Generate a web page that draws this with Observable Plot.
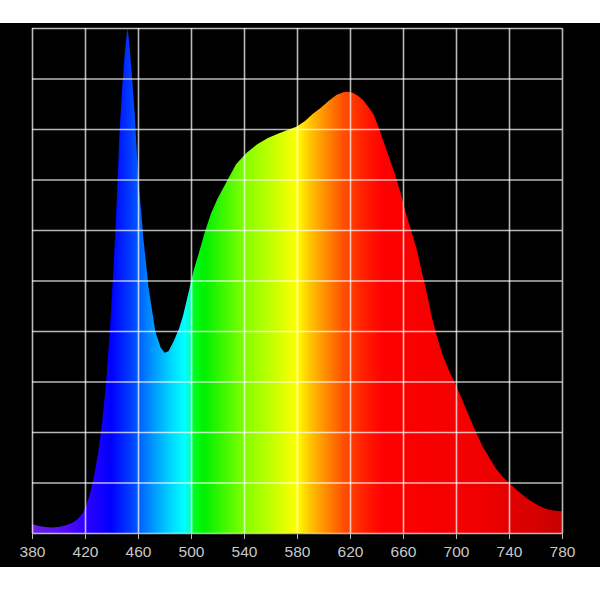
<!DOCTYPE html>
<html>
<head>
<meta charset="utf-8">
<script src="https://cdn.jsdelivr.net/npm/d3@7"></script>
<script src="https://cdn.jsdelivr.net/npm/@observablehq/plot@0.6"></script>
<style>
  html, body { margin: 0; padding: 0; background: #fff; }
  #wrap { padding-top: 23px; width: 600px; }
  svg { display: block; }
</style>
</head>
<body>
<div id="wrap"></div>
<script>
// Wavelength (nm) and relative intensity (%)
const wavelengths = [380, 385, 390, 395, 400, 405, 410, 414, 418, 421, 424, 427, 430, 433, 436, 439, 442, 444, 446, 448, 450, 452, 453, 455, 457.5, 460, 464, 468, 473, 477, 480, 483, 487, 491, 494, 498, 502, 506, 510, 515, 520, 527, 534, 542, 550, 558, 566, 574, 580, 586, 592, 598, 604, 610, 615, 618, 622, 626, 630, 634, 638, 642, 646, 650, 654, 658, 662, 666, 670, 674, 678, 682, 686, 690, 695, 700, 705, 710, 715, 720, 725, 730, 735, 740, 745, 750, 755, 760, 765, 770, 775, 780];
const intensity = [1.8, 1.4, 1.2, 1.1, 1.2, 1.5, 2.0, 2.6, 3.8, 5.5, 8, 11.5, 16, 22, 30, 41, 55, 66, 79, 88, 95, 100, 98, 92, 83, 71, 58.5, 48.5, 40, 36.8, 35.7, 36, 38, 40.5, 43, 47.5, 52, 55.5, 59.2, 63.2, 66.2, 69.6, 73, 75.3, 77, 78.2, 79.1, 79.9, 80.5, 81.6, 83, 84.2, 85.6, 86.8, 87.3, 87.4, 87.2, 86.6, 85.7, 84.3, 82.8, 80, 77, 74, 71, 67.5, 63.5, 60, 56.5, 52, 47.5, 42.5, 38.5, 35.2, 32, 29.2, 26.2, 23, 20, 17.2, 15, 12.8, 11.2, 9.9, 8.7, 7.6, 6.6, 5.8, 5.1, 4.6, 4.4, 4.3];

const xTicks = [380, 420, 460, 500, 540, 580, 620, 660, 700, 740, 780];
const yTicks = [0, 10, 20, 30, 40, 50, 60, 70, 80, 90, 100];

// Spectrum gradient stops (wavelength, colour)
const stopWavelengths = [380, 400, 420, 440, 455, 470, 485, 495, 499, 502, 510, 540, 570, 580, 590, 600, 615, 630, 645, 720, 780];
const stopColors = ["#6a1fe4", "#5a12f0", "#3000ff", "#0000ff", "#0040ff", "#0090ff", "#00d8ff", "#00ffff", "#00ffcc", "#00ff20", "#00f000", "#80ff00", "#e0ff00", "#ffff00", "#ffc400", "#ff9400", "#ff5000", "#ff2000", "#ff0000", "#f00000", "#c80000"];

const data = wavelengths.map((w, i) => ({wl: w, v: intensity[i]}));

const defs = () => {
  const d = d3.create("svg:defs");
  const g = d.append("linearGradient")
    .attr("id", "spec").attr("x1", 0).attr("x2", 1).attr("y1", 0).attr("y2", 0);
  stopWavelengths.forEach((w, i) => {
    g.append("stop").attr("offset", (w - 380) / 400).attr("stop-color", stopColors[i]);
  });
  return d.node();
};

const chart = Plot.plot({
  width: 600,
  height: 544,
  marginTop: 5,
  marginBottom: 34,
  marginLeft: 32,
  marginRight: 38,
  style: {background: "#000", color: "#c8c8c8", fontFamily: "Liberation Sans, Arial, sans-serif", fontSize: "15.5px"},
  x: {domain: [380, 780], ticks: xTicks, tickFormat: d => String(d), tickSize: 6, tickPadding: 7, label: null},
  y: {domain: [0, 100], axis: null},
  marks: [
    defs,
    Plot.areaY(data, {x: "wl", y: "v", fill: "url(#spec)"}),
    Plot.ruleX(xTicks, {stroke: "#fff", strokeOpacity: 0.72, strokeWidth: 1.6}),
    Plot.ruleY(yTicks, {stroke: "#fff", strokeOpacity: 0.72, strokeWidth: 1.6}),
    Plot.axisX({ticks: xTicks, tickFormat: d => String(d), tickSize: 6, tickPadding: 6, stroke: "#bbb", fill: "#c8c8c8", label: null})
  ]
});
document.getElementById("wrap").appendChild(chart);
</script>
</body>
</html>
